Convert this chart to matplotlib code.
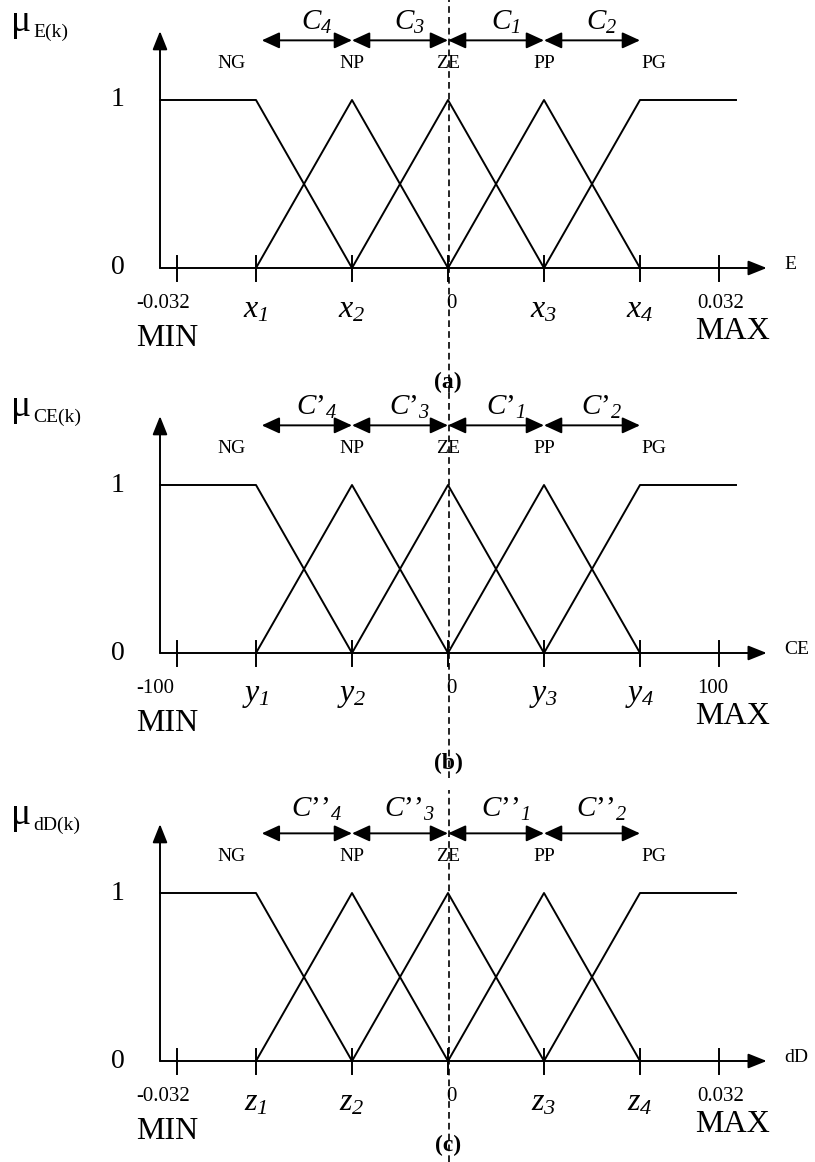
import numpy as np
import matplotlib
matplotlib.use('Agg')
import matplotlib.pyplot as plt

plt.rcParams['font.family'] = 'Liberation Serif'
plt.rcParams['mathtext.fontset'] = 'custom'
plt.rcParams['mathtext.rm'] = 'Liberation Serif'
plt.rcParams['mathtext.it'] = 'Liberation Serif:italic'
plt.rcParams['mathtext.bf'] = 'Liberation Serif:bold'
# \mathsf se usa para los subindices numericos en cursiva
plt.rcParams['mathtext.sf'] = 'Liberation Serif:italic'

# conjuntos difusos en unidades normalizadas (paso = 1)
mf_names = ['NG', 'NP', 'ZE', 'PP', 'PG']
mf_peaks = [-2, -1, 0, 1, 2]
universe = [-3, 3]
range_pos = [-2.82, 2.82]
cluster_edges = [-1.94, -1, 0, 1, 2]
cluster_ids = ['4', '3', '1', '2']

# una fila por variable: E, CE, dD
var_names = ['E', 'CE', 'dD']
point_syms = ['x', 'y', 'z']
range_labels = [['-0.032', '0.032'], ['-100', '100'], ['-0.032', '0.032']]
primes = ['', '\u2019', '\u2019\u2019']
captions = ['(a)', '(b)', '(c)']

W, H = 815, 1162
x0_px, xu_px, yu_px = 448, 96, 168
axis_px = [268, 653, 1061]
regions = [(0, 392), (392, 778), (778, 1162)]
label_y = [1.46, 1.46, 1.5]
caption_y = [-0.68, -0.66, -0.5]

fig = plt.figure(figsize=(W / 100, H / 100), dpi=100)
lw = 1.4


def arrow(ax, a, b, style):
    ax.annotate('', xy=b, xytext=a,
                arrowprops=dict(arrowstyle=style, color='k', lw=lw,
                                shrinkA=0, shrinkB=0, mutation_scale=15))


def panel(k):
    top, bot = regions[k]
    ax = fig.add_axes([0, 1 - bot / H, 1, (bot - top) / H])
    ax.set_xlim(-x0_px / xu_px, (W - x0_px) / xu_px)
    ax.set_ylim((axis_px[k] - bot) / yu_px, (axis_px[k] - top) / yu_px)
    ax.axis('off')

    # funciones de pertenencia
    p = mf_peaks
    ax.plot([universe[0], p[0], p[1]], [1, 1, 0], 'k', lw=lw)
    for i in range(1, 4):
        ax.plot([p[i - 1], p[i], p[i + 1]], [0, 1, 0], 'k', lw=lw)
    ax.plot([p[3], p[4], universe[1]], [0, 1, 1], 'k', lw=lw)

    # ejes con flecha
    hs = '-|>,head_length=0.75,head_width=0.3'
    arrow(ax, (universe[0], 0), (3.32, 0), hs)
    arrow(ax, (universe[0], 0), (universe[0], 1.41), hs)
    for t in range_pos + p:
        ax.plot([t, t], [-0.075, 0.07], 'k', lw=lw)

    ax.text(-3.44, 1, '1', fontsize=20, ha='center', va='center')
    ax.text(-3.44, 0, '0', fontsize=20, ha='center', va='center')
    ax.text(3.5, 0.02, var_names[k], fontsize=14, ha='left', va='center')

    # mu con subindice
    ax.text(-4.55, 1.41, '\u03bc', fontsize=27, ha='left', va='baseline')
    ax.annotate(var_names[k] + '(k)', xy=(-4.55, 1.41), xytext=(16, -4),
                textcoords='offset points', fontsize=14, ha='left',
                va='baseline')

    # nombres de los conjuntos
    name_x = [-2.25, -1, 0, 1, 2.14]
    for nx, nm in zip(name_x, mf_names):
        ax.text(nx, 1.22, nm, fontsize=14, ha='center', va='center')

    # intervalos C
    dbl = '<|-|>,head_length=0.72,head_width=0.33'
    for i, cid in enumerate(cluster_ids):
        a, b = cluster_edges[i], cluster_edges[i + 1]
        arrow(ax, (a, 1.355), (b, 1.355), dbl)
        ax.text((a + b) / 2 + 0.1, label_y[k],
                '$C' + primes[k] + '_{\\mathsf{' + cid + '}}$',
                fontsize=21, ha='center', va='center')

    # etiquetas del eje horizontal
    n = 1
    for t in p:
        if t == 0:
            ax.text(0.04, -0.21, '0', fontsize=15, ha='center', va='center')
            continue
        ax.text(t, -0.25, '$' + point_syms[k] + '_{\\mathsf{' + str(n) + '}}$',
                fontsize=23, ha='center', va='center')
        n += 1
    ax.text(-3.25, -0.21, range_labels[k][0], fontsize=15, ha='left', va='center')
    ax.text(2.6, -0.21, range_labels[k][1], fontsize=15, ha='left', va='center')
    ax.text(-3.25, -0.42, 'MIN', fontsize=23, ha='left', va='center')
    ax.text(2.57, -0.38, 'MAX', fontsize=23, ha='left', va='center')
    ax.text(0, caption_y[k], captions[k], fontsize=17, fontweight='bold',
            ha='center', va='center')

    ax.axvline(0.01, color='k', lw=1.2, ls=(0, (4, 2.5)),
               ymax=1 if k < 2 else 0.97)
    return ax


for k in range(3):
    panel(k)

fig.savefig('out.png', dpi=100)
